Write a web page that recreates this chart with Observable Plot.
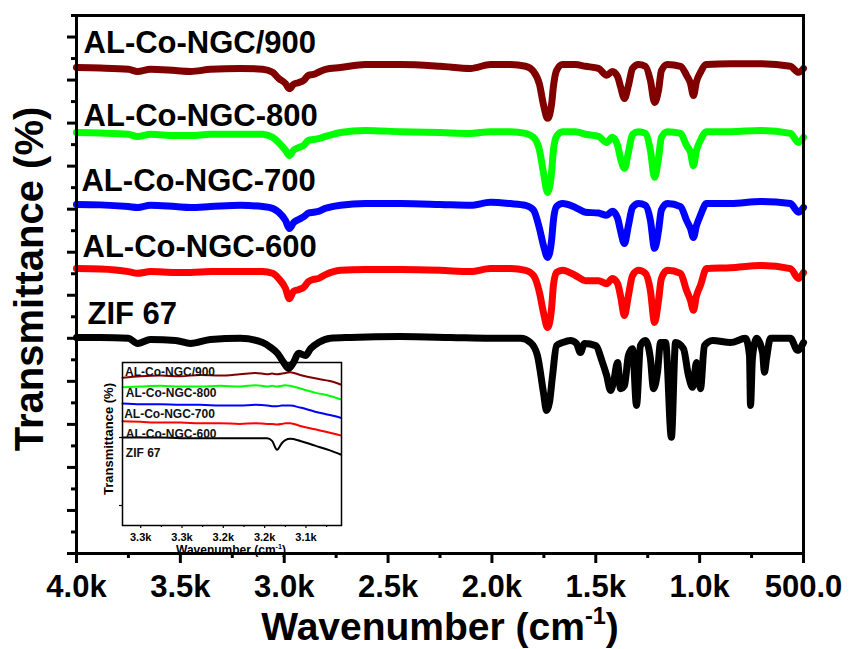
<!DOCTYPE html>
<html><head><meta charset="utf-8">
<script src="https://cdn.jsdelivr.net/npm/d3@7"></script>
<script src="https://cdn.jsdelivr.net/npm/@observablehq/plot@0.6"></script>
<style>
body{margin:0;background:#fff;}
#wrap{position:relative;width:850px;height:649px;}
#wrap text{font-weight:bold;}
#mainChart{position:absolute;left:0;top:0;z-index:2;}
#insetChart{position:absolute;left:90px;top:355px;z-index:1;}
</style></head><body><div id="wrap"></div>
<script>
// ---------- data ----------
const seriesNames = ["AL-Co-NGC/900","AL-Co-NGC-800","AL-Co-NGC-700","AL-Co-NGC-600","ZIF 67"];
const seriesColors = ["#800000","#00ff00","#0000ff","#ff0000","#000000"];

const wnNGC = [4000,3885,3750,3706,3644,3523,3451,3355,3210,3104,3056,3027,2994,2975,2955,2931,2907,2883,2859,2835,2801,2729,2609,2440,2248,2103,2007,1911,1838,1800,1771,1752,1732,1713,1704,1689,1660,1598,1550,1487,1448,1420,1395,1381,1362,1343,1323,1294,1261,1237,1217,1198,1184,1155,1092,1063,1044,1030,1015,996,967,851,707,563,524,500];
const t900 = [112.9,112.8,112.5,112.0,112.5,112.2,112.0,112.5,112.7,112.5,111.8,110.4,109.2,108.0,109.0,109.4,109.9,111.1,111.3,111.8,112.5,112.9,113.6,113.6,113.2,112.7,113.6,113.6,113.2,112.0,109.0,104.3,101.1,104.3,108.5,112.2,113.6,113.6,113.2,112.7,111.1,112.0,110.8,108.5,105.7,108.7,112.7,113.6,113.2,109.9,104.8,107.6,112.2,113.6,113.2,111.1,109.2,106.4,109.7,111.8,113.6,113.8,113.8,113.2,111.8,112.7];
const t800 = [97.8,97.7,97.4,96.9,97.4,97.1,97.1,97.4,97.4,97.4,96.7,95.5,93.7,92.5,93.7,94.3,94.8,96.0,96.2,96.4,96.9,97.8,98.3,98.0,97.8,97.6,98.0,98.0,97.6,96.7,93.7,88.5,83.9,88.5,93.7,96.9,98.0,98.0,97.4,96.9,95.5,96.7,94.8,91.8,89.5,93.2,97.4,98.0,97.6,93.7,87.4,91.8,96.7,98.0,97.6,94.8,93.2,90.1,93.7,96.0,98.0,98.0,98.3,97.6,95.5,96.7];
const t700 = [81.1,81.0,80.6,80.4,80.9,80.6,80.4,80.6,80.9,80.6,80.2,79.3,77.4,75.5,76.9,77.6,78.2,79.1,79.3,79.5,80.2,80.9,81.3,81.3,81.1,80.9,81.6,81.3,80.9,79.8,75.5,71.6,68.8,72.7,77.4,80.6,81.3,80.4,79.3,79.1,78.6,79.5,77.9,75.0,72.0,76.2,80.4,81.3,80.9,77.4,70.9,75.0,79.8,81.3,80.6,77.4,75.5,73.4,76.2,78.6,81.3,81.3,81.8,81.3,79.3,80.4];
const t600 = [66.2,66.1,65.5,65.1,65.5,65.3,65.3,65.5,65.5,65.5,65.1,63.9,61.6,59.2,60.9,61.3,61.8,63.2,63.7,63.9,64.8,65.8,66.0,66.0,65.8,65.5,66.2,66.2,65.8,64.6,60.6,56.0,52.5,56.9,62.3,65.3,65.8,64.6,63.4,63.4,62.7,63.9,62.7,59.9,55.3,59.9,64.6,65.8,65.1,61.1,53.7,58.8,63.9,65.8,65.1,61.1,58.8,56.5,59.9,62.3,66.2,66.4,66.9,66.2,63.9,65.3];

const wnZIF = [4000,3885,3750,3706,3644,3523,3451,3355,3210,3104,3066,3032,3003,2979,2955,2931,2898,2873,2835,2777,2681,2440,2199,2007,1862,1814,1781,1752,1737,1723,1708,1689,1660,1622,1593,1574,1554,1501,1468,1448,1429,1415,1395,1381,1362,1343,1323,1304,1285,1261,1237,1222,1203,1188,1164,1136,1116,1078,1054,1034,1015,996,977,938,851,779,760,755,746,726,697,688,678,659,563,529,500];
const tZIF = [50.2,50.2,50.0,48.8,49.7,49.5,48.8,49.7,50.0,49.0,47.9,46.5,44.4,43.0,44.4,46.5,46.0,47.6,49.0,50.0,50.2,50.4,50.2,50.0,50.0,49.0,46.0,37.4,33.2,35.1,41.4,48.3,49.0,49.5,48.8,46.7,48.8,48.3,44.4,41.4,37.9,39.7,44.4,38.3,39.0,46.0,47.6,34.4,48.3,49.5,45.3,38.3,42.1,49.0,49.0,27.0,49.0,47.6,41.4,38.6,44.4,38.3,48.3,49.5,49.0,50.0,46.0,34.4,45.3,50.0,46.7,42.1,45.3,50.0,50.0,47.2,49.0];

const xTicks = [4000,3500,3000,2500,2000,1500,1000,500];
const xTickLabels = ["4.0k","3.5k","3.0k","2.5k","2.0k","1.5k","1.0k","500.0"];
const xMinor = [3750,3250,2750,2250,1750,1250,750];
const yMajor = [0,10,20,30,40,50,60,70,80,90,100,110,120];
const yMinor = [5,15,25,35,45,55,65,75,85,95,105,115,125];

const labelWn = [3966,3966,3976,3971,3947];
const labelT = [116.2,99.4,84.3,68.8,53.4];

// inset (zoom on 3320-3060 cm-1)
const wnInset = [3322,3300,3276,3252,3228,3204,3180,3161,3147,3141,3135,3129,3125,3119,3107,3089,3071,3058];
const i900 = [2.88,2.90,2.91,2.90,2.92,2.91,2.93,2.95,2.93,2.94,2.93,2.94,2.95,2.96,2.92,2.87,2.83,2.78];
const i800 = [2.74,2.75,2.76,2.75,2.75,2.76,2.75,2.77,2.75,2.76,2.75,2.76,2.77,2.76,2.72,2.66,2.61,2.56];
const i700 = [2.50,2.49,2.49,2.48,2.48,2.47,2.47,2.48,2.47,2.46,2.46,2.47,2.47,2.47,2.44,2.38,2.33,2.29];
const i600 = [2.24,2.23,2.22,2.22,2.21,2.21,2.20,2.21,2.20,2.20,2.19,2.20,2.21,2.21,2.17,2.12,2.07,2.03];
const iZIF = [2.00,2.00,2.00,1.99,1.99,1.99,1.99,1.99,1.99,1.95,1.82,1.92,1.96,1.98,1.95,1.88,1.81,1.75];
const insetTicks = [3300,3250,3200,3150,3100];
const insetTickLabels = ["3.3k","3.3k","3.2k","3.2k","3.1k"];
const insetMinor = [3275,3225,3175,3125,3075];
const insetYTicks = [1,2];
const insetLabelWn = [3319,3318,3320,3318,3318];
const insetLabelT = [2.90,2.59,2.29,2.00,1.71];

// ---------- build ----------
const FONT = '"Liberation Sans", Arial, Helvetica, sans-serif';
const rows = (wn, vals, s) => wn.map((w, i) => ({w, t: vals[i], s}));
const mainData = [
  ...rows(wnNGC, t900, seriesNames[0]),
  ...rows(wnNGC, t800, seriesNames[1]),
  ...rows(wnNGC, t700, seriesNames[2]),
  ...rows(wnNGC, t600, seriesNames[3]),
  ...rows(wnZIF, tZIF, seriesNames[4])
];
const insetData = [
  ...rows(wnInset, i900, seriesNames[0]),
  ...rows(wnInset, i800, seriesNames[1]),
  ...rows(wnInset, i700, seriesNames[2]),
  ...rows(wnInset, i600, seriesNames[3]),
  ...rows(wnInset, iZIF, seriesNames[4])
];
const labels = seriesNames.map((s, i) => ({s, w: labelWn[i], t: labelT[i]}));
const insetLabels = seriesNames.map((s, i) => ({s, w: insetLabelWn[i], t: insetLabelT[i]}));

const main = Plot.plot({
  width: 850, height: 649,
  marginLeft: 76, marginRight: 47, marginTop: 15, marginBottom: 96,
  style: {fontFamily: FONT, background: "transparent", overflow: "visible"},
  x: {domain: [4000, 500]},
  y: {domain: [0, 125]},
  color: {domain: seriesNames, range: seriesColors},
  marks: [
    Plot.line(mainData, {x: "w", y: "t", z: "s", stroke: "s", strokeWidth: 7, curve: "monotone-x", strokeLinejoin: "round", strokeLinecap: "round"}),
    Plot.text(labels, {x: "w", y: "t", text: "s", textAnchor: "start", lineAnchor: "bottom", fontSize: 31, fontWeight: "bold", fill: "black"}),
    Plot.frame({stroke: "black", strokeWidth: 3}),
    Plot.axisX(xTicks, {anchor: "bottom", tickSize: 10, tickPadding: 11, strokeWidth: 3, fontSize: 31, fontWeight: "bold", tickFormat: d => xTickLabels[xTicks.indexOf(d)], label: null}),
    Plot.axisX(xMinor, {anchor: "bottom", tickSize: 5, strokeWidth: 3, tickFormat: () => "", label: null}),
    Plot.axisY(yMajor, {anchor: "left", tickSize: 9, strokeWidth: 3, tickFormat: () => "", label: null}),
    Plot.axisY(yMinor, {anchor: "left", tickSize: 5, strokeWidth: 3, tickFormat: () => "", label: null})
  ]
});
main.id = "mainChart";

const inset = Plot.plot({
  width: 260, height: 215,
  marginLeft: 32, marginRight: 9, marginTop: 7, marginBottom: 45,
  style: {fontFamily: FONT, background: "transparent", overflow: "visible"},
  x: {domain: [3322, 3057]},
  y: {domain: [0.706, 3.103]},
  color: {domain: seriesNames, range: seriesColors},
  marks: [
    Plot.line(insetData, {x: "w", y: "t", z: "s", stroke: "s", strokeWidth: 2, curve: "monotone-x"}),
    Plot.text(insetLabels, {x: "w", y: "t", text: "s", textAnchor: "start", lineAnchor: "bottom", fontSize: 12, fontWeight: "bold", fill: "#111"}),
    Plot.frame({stroke: "black", strokeWidth: 1.5}),
    Plot.axisX(insetTicks, {anchor: "bottom", tickSize: 3, tickPadding: 5, strokeWidth: 1.2, fontSize: 11, fontWeight: "bold", tickFormat: d => insetTickLabels[insetTicks.indexOf(d)], label: null}),
    Plot.axisX(insetMinor, {anchor: "bottom", tickSize: 2, strokeWidth: 1.2, tickFormat: () => "", label: null}),
    Plot.axisY(insetYTicks, {anchor: "left", tickSize: 3, strokeWidth: 1.2, tickFormat: () => "", label: null})
  ]
});
inset.id = "insetChart";

const wrap = document.getElementById("wrap");
wrap.appendChild(inset);
wrap.appendChild(main);

function axisTitle(svg, x, y, rotate, size, parts) {
  const t = d3.select(svg).append("text")
    .attr("transform", `translate(${x},${y})` + (rotate ? " rotate(-90)" : ""))
    .attr("text-anchor", "middle")
    .attr("font-family", FONT)
    .attr("font-weight", "bold")
    .attr("font-size", size)
    .attr("fill", "black");
  for (const p of parts) {
    const ts = t.append("tspan").text(p.text);
    if (p.sup) ts.attr("font-size", size * 0.6).attr("dy", -size * 0.4);
    if (p.after) ts.attr("dy", size * 0.4);
  }
}
axisTitle(main, 440, 640, false, 39, [{text: "Wavenumber (cm"}, {text: "-1", sup: true}, {text: ")", after: true}]);
axisTitle(main, 43, 279, true, 40, [{text: "Transmittance (%)"}]);
axisTitle(inset, 141, 199, false, 12, [{text: "Wavenumber (cm"}, {text: "-1", sup: true}, {text: ")", after: true}]);
axisTitle(inset, 23, 84, true, 13, [{text: "Transmittance (%)"}]);
</script></body></html>
